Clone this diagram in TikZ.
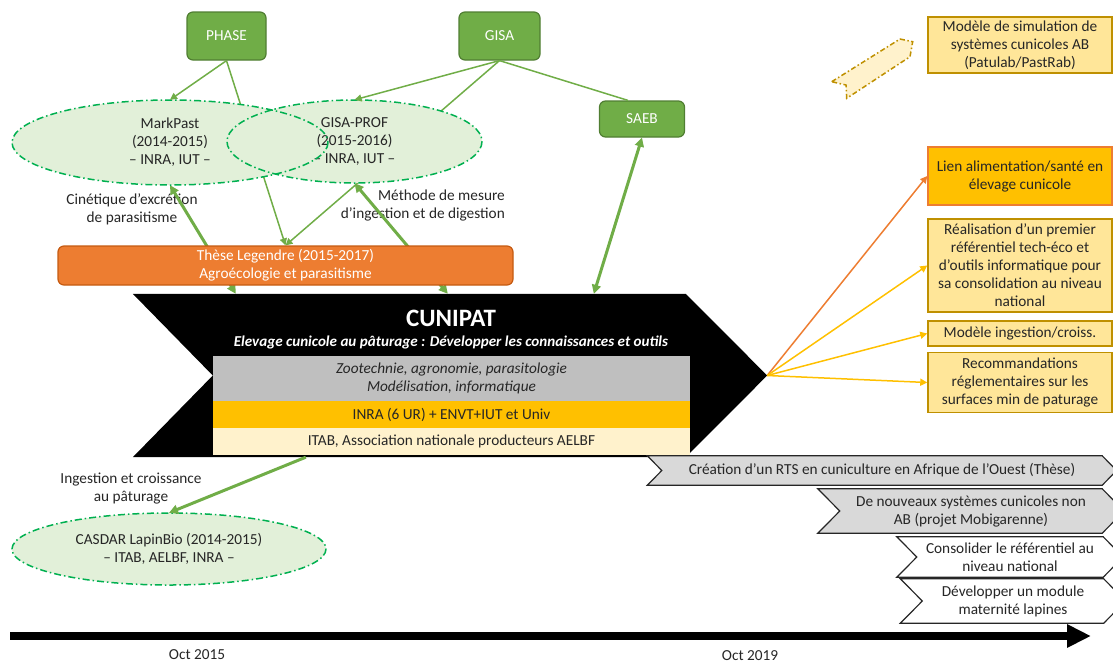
\documentclass[tikz,border=0pt]{standalone}
\usepackage{fontspec}
\setmainfont{Carlito}
\usetikzlibrary{arrows.meta,shapes.geometric,calc}
\pgfdeclarelayer{bg}
\pgfsetlayers{bg,main}
\definecolor{gfill}{HTML}{70AD47}
\definecolor{gdark}{HTML}{507E32}
\definecolor{ellfill}{HTML}{E2F0D9}
\definecolor{elldraw}{HTML}{00B050}
\definecolor{orng}{HTML}{ED7D31}
\definecolor{orngd}{HTML}{C55A11}
\definecolor{gold}{HTML}{FFC000}
\definecolor{goldl}{HTML}{FFE699}
\definecolor{goldd}{HTML}{BF9000}
\definecolor{cream}{HTML}{FFF2CC}
\definecolor{grayb}{HTML}{BFBFBF}
\definecolor{grayc}{HTML}{D9D9D9}
\definecolor{txt}{HTML}{262626}
\newcommand\chevpoly[3]{%
  \draw[chevline, fill=#3] ([xshift=-#2pt]#1.north west) -- (#1.north east) -- ([xshift=#2pt]#1.east) -- (#1.south east) -- ([xshift=-#2pt]#1.south west) -- (#1.west) -- cycle;}
\begin{document}
\begin{tikzpicture}[x=1pt,y=-1pt,
  font=\fontsize{15.3}{18}\selectfont, text=txt,
  gbox/.style={draw=gdark, line width=1.2pt, fill=gfill, rounded corners=6pt, text=white, inner sep=0pt},
  ellnode/.style={ellipse, fill=ellfill, inner sep=0pt, align=center},
  ellb/.style={draw=elldraw, line width=1.5pt, dash pattern=on 7pt off 3pt on 1.5pt off 3pt},
  band/.style={inner sep=0pt, minimum width=477pt, align=center},
  rbox/.style={draw=goldd, line width=1.5pt, fill=goldl, inner sep=0pt, minimum width=184pt, align=center},
  chevnode/.style={inner sep=0pt, align=center},
  chevline/.style={draw=txt, line width=1.2pt},
  lbl/.style={inner sep=0pt, align=center},
  thin/.style={gfill, line width=1.5pt, -{Triangle[length=7pt,width=7pt]}},
  thick/.style={gfill, line width=3pt, {Triangle[length=9pt,width=9pt]}-{Triangle[length=9pt,width=9pt]}},
  fan/.style={line width=1.5pt, -{Triangle[length=7pt,width=7pt]}}
]
\useasboundingbox (0,0) rectangle (1113,665);

% top green boxes
\node[gbox, minimum width=79pt, minimum height=48pt] (phase) at (226.5,36) {PHASE};
\node[gbox, minimum width=81pt, minimum height=48pt] (gisa) at (499.5,36) {GISA};
\node[gbox, minimum width=85pt, minimum height=36pt] (saeb) at (642,119) {SAEB};

% ellipses
\node[ellnode, minimum width=316pt, minimum height=85pt] (mp) at (170,142.5) {MarkPast\\(2014-2015)\\– INRA, IUT –};
\node[ellnode, minimum width=255pt, minimum height=83pt] (gp) at (354.5,141.5) {GISA-PROF\\(2015-2016)\\– INRA, IUT –};
\draw[ellb] (mp.center) ellipse [x radius=158, y radius=42.5];
\draw[ellb] (gp.center) ellipse [x radius=127.5, y radius=41.5];

% these
\node[draw=orngd, line width=1.2pt, fill=orng, rounded corners=6pt, text=white, inner sep=0pt,
      minimum width=455pt, minimum height=39pt, align=center] (these) at (285.5,265.5)
      {Thèse Legendre (2015-2017)\\Agroécologie et parasitisme};

% CUNIPAT
\node[inner sep=0pt, minimum width=634pt, minimum height=163pt] (cun) at (450,375.5) {};
\node[band, fill=grayb, minimum height=45pt] (zoo) at (451.5,378.5) {\itshape Zootechnie, agronomie, parasitologie\\\itshape Modélisation, informatique};
\node[band, fill=gold, minimum height=27pt] (inra) at (451.5,414.5) {INRA (6 UR) + ENVT+IUT et Univ};
\node[band, fill=cream, minimum height=27pt] (itab) at (451.5,441.5) {ITAB, Association nationale producteurs AELBF};
\node[lbl, text=white, font=\fontsize{25}{28}\selectfont\bfseries] (title) at (451,318) {CUNIPAT};
\node[lbl, text=white, font=\fontsize{15.1}{18}\selectfont\bfseries\itshape] (sub) at (451,342) {Elevage cunicole au pâturage : Développer les connaissances et outils};

% CASDAR
\node[ellnode, minimum width=314pt, minimum height=72pt] (casdar) at (169,549) {CASDAR LapinBio (2014-2015)\\– ITAB, AELBF, INRA –};
\draw[ellb] (casdar.center) ellipse [x radius=157, y radius=36];

% right boxes
\node[rbox, minimum height=56pt] (r1) at (1020,45) {Modèle de simulation de\\systèmes cunicoles AB\\(Patulab/PastRab)};
\node[rbox, draw=orng, fill=gold, minimum height=58pt] (r2) at (1020,176) {Lien alimentation/santé en\\élevage cunicole};
\node[rbox, minimum height=93pt] (r3) at (1020,265.5) {Réalisation d’un premier\\référentiel tech-éco et\\d’outils informatique pour\\sa consolidation au niveau\\national};
\node[rbox, minimum height=25pt] (r4) at (1020,333.5) {Modèle ingestion/croiss.};
\node[rbox, minimum height=60pt] (r5) at (1020,382.5) {Recommandations\\réglementaires sur les\\surfaces min de paturage};

% dashed block arrow
\draw[goldd, fill=cream, line width=1.5pt, dash pattern=on 5pt off 2.5pt on 1.5pt off 2.5pt]
  (831.7,81.7) -- (900,39) -- (912.7,41.7) -- (910,56.7) -- (846.7,98.3) -- (846,85) -- cycle;

% bottom chevrons
\node[chevnode, minimum width=440pt, minimum height=29pt] (c1) at (882,470.5) {Création d’un RTS en cuniculture en Afrique de l’Ouest (Thèse)};
\node[chevnode, minimum width=262pt, minimum height=44pt] (c2) at (971,511) {De nouveaux systèmes cunicoles non\\AB (projet Mobigarenne)};
\node[chevnode, minimum width=186pt, minimum height=40pt] (c3) at (1010,557) {Consolider le référentiel au\\niveau national};
\node[chevnode, minimum width=181pt, minimum height=44pt] (c4) at (1013,601) {Développer un module\\maternité lapines};

% timeline
\coordinate (tl0) at (10,636);
\coordinate (tl1) at (1091,636);
\draw[black, line width=8pt, -{Triangle[length=24pt,width=22pt]}] (tl0) -- (tl1);
\node[lbl] (oct15) at (197,655) {Oct 2015};
\node[lbl] (oct19) at (750,656) {Oct 2019};

% background layer: shapes, labels, connectors passing behind
\begin{pgfonlayer}{bg}
  \fill[black] (cun.north west) -- ([xshift=-81.5pt]cun.north east) -- (cun.east)
     -- ([xshift=-81.5pt]cun.south east) -- (cun.south west) -- ([xshift=80pt]cun.west) -- cycle;
  \chevpoly{c1}{14.5}{grayc}
  \chevpoly{c2}{22}{grayc}
  \chevpoly{c3}{20}{white}
  \chevpoly{c4}{22}{white}
  \node[lbl] (l1) at (132,209) {Cinétique d’excrétion\\de parasitisme};
  \node[lbl, align=right, anchor=east] (l2) at (505,205) {Méthode de mesure\\d’ingestion et de digestion};
  \node[lbl] (l3) at (131,489) {Ingestion et croissance\\au pâturage};
  \draw[thin] (phase.south) -- (these.north);
  \draw[thin] (gisa.south) -- (these.north);
  \draw[thick] (mp.south) -- ([xshift=103pt]cun.north west);
  \draw[thick] (gp.south) -- ([xshift=315pt]cun.north west);
\end{pgfonlayer}

% connectors on top
\draw[thin] (phase.south) -- (mp.north);
\draw[thin] (gisa.south) -- (gp.north);
\draw[gfill, line width=1.5pt] (gisa.south) -- ([xshift=-14pt]saeb.north);
\draw[thick] (saeb.south) -- ([xshift=461pt]cun.north west);
\draw[gfill, line width=3pt, -{Triangle[length=9pt,width=9pt]}] ([xshift=173pt]cun.south west) -- (casdar.north);
\draw[fan, orng] (cun.east) -- (r2.west);
\draw[fan, gold] (cun.east) -- (r3.west);
\draw[fan, gold] (cun.east) -- (r4.west);
\draw[fan, gold] (cun.east) -- (r5.west);
\end{tikzpicture}
\end{document}
